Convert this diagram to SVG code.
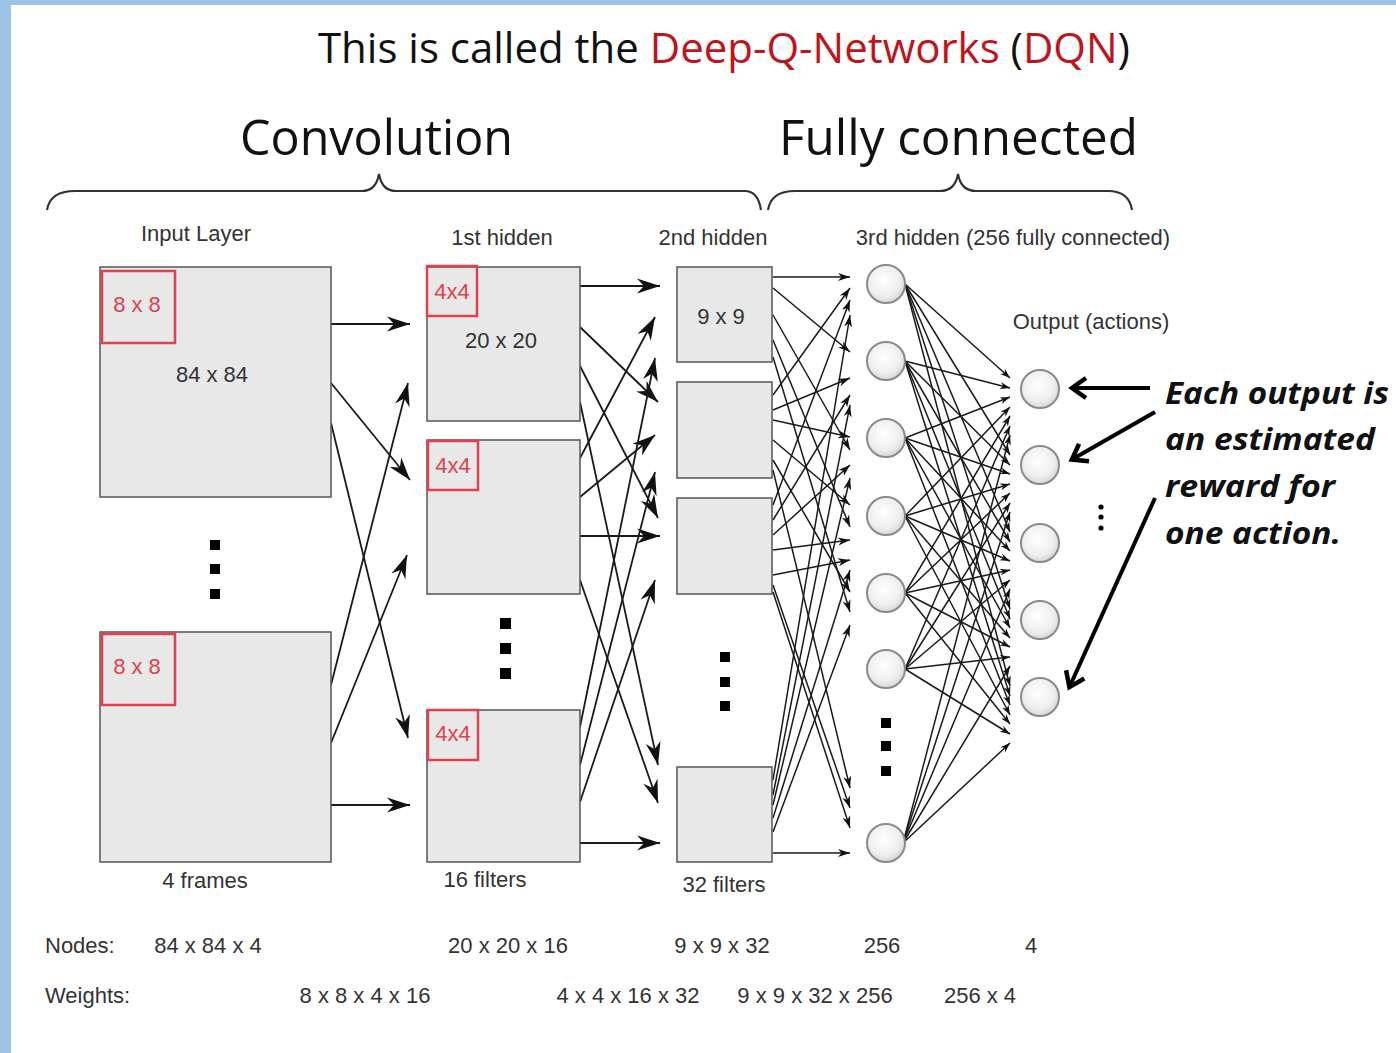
<svg xmlns="http://www.w3.org/2000/svg" width="1396" height="1053" viewBox="0 0 1396 1053">
<defs>
<style>
.box{fill:#e8e8e8;stroke:#555;stroke-width:1.5}
.red{fill:none;stroke:#e0404f;stroke-width:2.5}
.rt{fill:#e0404f;font-family:"Liberation Sans",Arial,sans-serif;font-size:22px;text-anchor:middle}
.lbl{fill:#333;font-family:"Liberation Sans",Arial,sans-serif;font-size:22px}
.c{text-anchor:middle}
.conv line{stroke:#1a1a1a;stroke-width:1.8;marker-end:url(#ah)}
.fc2 line{stroke:#1a1a1a;stroke-width:1.5;marker-end:url(#as)}
.fc3 line{stroke:#1a1a1a;stroke-width:1.5;marker-end:url(#at)}
.node{fill:url(#g);stroke:#8a8a8a;stroke-width:2}
.sq{fill:#000}
.brace{fill:none;stroke:#333;stroke-width:2.2}
.big{font-family:"Open Sans","Noto Sans",sans-serif;fill:#111}
.ann{font-family:"Open Sans","Noto Sans",sans-serif;font-weight:bold;font-style:italic;font-size:31px;fill:#111}
.ka{stroke:#000;stroke-width:4;fill:none;marker-end:url(#ak)}
</style>
<radialGradient id="g" cx="0.45" cy="0.4" r="0.6">
<stop offset="0" stop-color="#ffffff"/>
<stop offset="0.7" stop-color="#eeeeee"/>
<stop offset="1" stop-color="#d6d6d6"/>
</radialGradient>
<marker id="ah" viewBox="-24 -8 26 16" markerWidth="26" markerHeight="16" refX="0" refY="0" orient="auto" markerUnits="userSpaceOnUse"><path d="M0,0 L-23,-7.5 L-16,0 L-23,7.5 Z" fill="#111"/></marker>
<marker id="as" viewBox="-13 -5 14 10" markerWidth="14" markerHeight="10" refX="0" refY="0" orient="auto" markerUnits="userSpaceOnUse"><path d="M0,0 L-12,-4 L-8.5,0 L-12,4 Z" fill="#111"/></marker>
<marker id="at" viewBox="-11 -4 12 8" markerWidth="12" markerHeight="8" refX="0" refY="0" orient="auto" markerUnits="userSpaceOnUse"><path d="M0,0 L-10,-3.5 L-7,0 L-10,3.5 Z" fill="#111"/></marker>
<marker id="ak" viewBox="-20 -14 26 28" markerWidth="26" markerHeight="28" refX="0" refY="0" orient="auto" markerUnits="userSpaceOnUse"><path d="M-15,-10 L-1,0 L-15,10" fill="none" stroke="#000" stroke-width="4.5"/></marker>
</defs>
<rect x="0" y="0" width="1396" height="1053" fill="#9dc3e6"/>
<rect x="11" y="5" width="1385" height="1048" fill="#ffffff"/>

<text class="big" x="318" y="63" font-size="42" textLength="812" lengthAdjust="spacingAndGlyphs">This is called the <tspan fill="#c0141c">Deep-Q-Networks</tspan> (<tspan fill="#c0141c">DQN</tspan>)</text>
<text class="big" x="240" y="155" font-size="50" textLength="273" lengthAdjust="spacingAndGlyphs">Convolution</text>
<text class="big" x="779" y="155" font-size="50" textLength="359" lengthAdjust="spacingAndGlyphs">Fully connected</text>
<path class="brace" d="M47,210 Q50,191 75,191 L362,191 Q376,191 379,174 Q382,191 396,191 L745,191 Q758,191 761,210"/>
<path class="brace" d="M768,210 Q771,191 795,191 L940,191 Q955,191 958,174 Q961,191 976,191 L1108,191 Q1129,191 1132,210"/>

<text class="lbl c" x="196" y="241">Input Layer</text>
<text class="lbl c" x="502" y="245">1st hidden</text>
<text class="lbl c" x="713" y="245">2nd hidden</text>
<text class="lbl c" x="1013" y="245">3rd hidden (256 fully connected)</text>
<text class="lbl c" x="1091" y="329">Output (actions)</text>

<g id="connectors">
<g class="conv">
<line x1="331" y1="324" x2="410" y2="324"/>
<line x1="331" y1="383" x2="410" y2="480"/>
<line x1="331" y1="423" x2="408" y2="738"/>
<line x1="331" y1="685" x2="408" y2="383"/>
<line x1="331" y1="743" x2="407" y2="555"/>
<line x1="331" y1="805" x2="410" y2="805"/>
<line x1="580" y1="286" x2="660" y2="286"/>
<line x1="580" y1="327" x2="658" y2="402"/>
<line x1="580" y1="366" x2="658" y2="518"/>
<line x1="580" y1="402" x2="658" y2="765"/>
<line x1="580" y1="458" x2="655" y2="317"/>
<line x1="580" y1="497" x2="655" y2="435"/>
<line x1="580" y1="536" x2="660" y2="536"/>
<line x1="580" y1="580" x2="658" y2="803"/>
<line x1="580" y1="727" x2="655" y2="358"/>
<line x1="580" y1="765" x2="655" y2="472"/>
<line x1="580" y1="802" x2="655" y2="580"/>
<line x1="580" y1="843" x2="660" y2="843"/>
</g>
<g class="fc2">
<line x1="773" y1="277" x2="850" y2="277"/>
<line x1="773" y1="288" x2="850" y2="352"/>
<line x1="773" y1="315" x2="850" y2="450"/>
<line x1="773" y1="340" x2="850" y2="527"/>
<line x1="773" y1="357" x2="850" y2="612"/>
<line x1="773" y1="395" x2="850" y2="288"/>
<line x1="773" y1="410" x2="850" y2="378"/>
<line x1="773" y1="420" x2="850" y2="437"/>
<line x1="773" y1="440" x2="850" y2="505"/>
<line x1="773" y1="460" x2="850" y2="592"/>
<line x1="773" y1="470" x2="850" y2="788"/>
<line x1="773" y1="505" x2="850" y2="300"/>
<line x1="773" y1="520" x2="850" y2="395"/>
<line x1="773" y1="535" x2="850" y2="465"/>
<line x1="773" y1="550" x2="850" y2="540"/>
<line x1="773" y1="575" x2="850" y2="560"/>
<line x1="773" y1="585" x2="850" y2="808"/>
<line x1="773" y1="592" x2="850" y2="828"/>
<line x1="773" y1="780" x2="850" y2="315"/>
<line x1="773" y1="795" x2="850" y2="405"/>
<line x1="773" y1="805" x2="850" y2="478"/>
<line x1="773" y1="818" x2="850" y2="570"/>
<line x1="773" y1="832" x2="850" y2="625"/>
<line x1="773" y1="853" x2="850" y2="853"/>
</g>
<g class="fc3">
<line x1="905" y1="284" x2="1010" y2="378"/>
<line x1="905" y1="284" x2="1010" y2="455"/>
<line x1="905" y1="284" x2="1010" y2="532"/>
<line x1="905" y1="284" x2="1010" y2="609"/>
<line x1="905" y1="284" x2="1010" y2="686"/>
<line x1="905" y1="361" x2="1010" y2="388"/>
<line x1="905" y1="361" x2="1010" y2="465"/>
<line x1="905" y1="361" x2="1010" y2="542"/>
<line x1="905" y1="361" x2="1010" y2="619"/>
<line x1="905" y1="361" x2="1010" y2="696"/>
<line x1="905" y1="438" x2="1010" y2="397"/>
<line x1="905" y1="438" x2="1010" y2="474"/>
<line x1="905" y1="438" x2="1010" y2="551"/>
<line x1="905" y1="438" x2="1010" y2="628"/>
<line x1="905" y1="438" x2="1010" y2="705"/>
<line x1="905" y1="516" x2="1010" y2="407"/>
<line x1="905" y1="516" x2="1010" y2="484"/>
<line x1="905" y1="516" x2="1010" y2="561"/>
<line x1="905" y1="516" x2="1010" y2="638"/>
<line x1="905" y1="516" x2="1010" y2="715"/>
<line x1="905" y1="593" x2="1010" y2="416"/>
<line x1="905" y1="593" x2="1010" y2="493"/>
<line x1="905" y1="593" x2="1010" y2="570"/>
<line x1="905" y1="593" x2="1010" y2="647"/>
<line x1="905" y1="593" x2="1010" y2="724"/>
<line x1="905" y1="669" x2="1010" y2="426"/>
<line x1="905" y1="669" x2="1010" y2="503"/>
<line x1="905" y1="669" x2="1010" y2="580"/>
<line x1="905" y1="669" x2="1010" y2="657"/>
<line x1="905" y1="669" x2="1010" y2="734"/>
<line x1="903" y1="843" x2="1010" y2="435"/>
<line x1="903" y1="843" x2="1010" y2="512"/>
<line x1="903" y1="843" x2="1010" y2="589"/>
<line x1="903" y1="843" x2="1010" y2="666"/>
<line x1="903" y1="843" x2="1010" y2="743"/>
</g>
<line class="ka" x1="1150" y1="388" x2="1071" y2="388"/>
<line class="ka" x1="1155" y1="412" x2="1071" y2="460"/>
<line class="ka" x1="1155" y1="498" x2="1069" y2="688"/>
</g>

<g id="input1">
<rect class="box" x="100" y="267" width="231" height="230"/>
<rect class="red" x="102" y="271" width="73" height="72"/>
<text class="rt" x="137" y="312">8 x 8</text>
<text class="lbl c" x="212" y="382">84 x 84</text>
</g>
<g id="input-dots">
<rect class="sq" x="210" y="540" width="10" height="10"/>
<rect class="sq" x="210" y="564" width="10" height="10"/>
<rect class="sq" x="210" y="589" width="10" height="10"/>
</g>
<g id="input2">
<rect class="box" x="100" y="632" width="231" height="230"/>
<rect class="red" x="102" y="634" width="73" height="71"/>
<text class="rt" x="137" y="674">8 x 8</text>
</g>
<text class="lbl c" x="205" y="888">4 frames</text>

<g id="h1a">
<rect class="box" x="427" y="267" width="153" height="154"/>
<rect class="red" x="427" y="266" width="50" height="50"/>
<text class="rt" x="452" y="299">4x4</text>
<text class="lbl c" x="501" y="348">20 x 20</text>
</g>
<g id="h1b">
<rect class="box" x="427" y="440" width="153" height="154"/>
<rect class="red" x="428" y="441" width="50" height="49"/>
<text class="rt" x="453" y="473">4x4</text>
</g>
<g id="h1-dots">
<rect class="sq" x="500" y="618" width="11" height="11"/>
<rect class="sq" x="500" y="643" width="11" height="11"/>
<rect class="sq" x="500" y="668" width="11" height="11"/>
</g>
<g id="h1c">
<rect class="box" x="427" y="710" width="153" height="152"/>
<rect class="red" x="428" y="710" width="50" height="50"/>
<text class="rt" x="453" y="741">4x4</text>
</g>
<text class="lbl c" x="485" y="887">16 filters</text>

<g id="h2a">
<rect class="box" x="677" y="267" width="95" height="95"/>
<text class="lbl c" x="721" y="324">9 x 9</text>
</g>
<g id="h2b"><rect class="box" x="677" y="382" width="95" height="96"/></g>
<g id="h2c"><rect class="box" x="677" y="498" width="95" height="96"/></g>
<g id="h2-dots">
<rect class="sq" x="720" y="652" width="10" height="10"/>
<rect class="sq" x="720" y="677" width="10" height="10"/>
<rect class="sq" x="720" y="701" width="10" height="10"/>
</g>
<g id="h2d"><rect class="box" x="677" y="767" width="95" height="95"/></g>
<text class="lbl c" x="724" y="892">32 filters</text>

<g id="h3">
<circle class="node" cx="886" cy="284" r="19"/>
<circle class="node" cx="886" cy="361" r="19"/>
<circle class="node" cx="886" cy="438" r="19"/>
<circle class="node" cx="886" cy="516" r="19"/>
<circle class="node" cx="886" cy="593" r="19"/>
<circle class="node" cx="886" cy="669" r="19"/>
<circle class="node" cx="886" cy="843" r="19"/>
<rect class="sq" x="881" y="718" width="10" height="10"/>
<rect class="sq" x="881" y="741" width="10" height="10"/>
<rect class="sq" x="881" y="766" width="10" height="10"/>
</g>

<g id="output">
<circle class="node" cx="1040" cy="389" r="19"/>
<circle class="node" cx="1040" cy="465" r="19"/>
<circle class="node" cx="1040" cy="543" r="19"/>
<circle class="node" cx="1040" cy="620" r="19"/>
<circle class="node" cx="1040" cy="697" r="19"/>
<circle cx="1101" cy="507" r="2.6" fill="#000"/>
<circle cx="1101" cy="517" r="2.6" fill="#000"/>
<circle cx="1101" cy="528" r="2.6" fill="#000"/>
</g>

<g id="annotation">
<text class="ann" x="1165" y="404" textLength="224" lengthAdjust="spacingAndGlyphs">Each output is</text>
<text class="ann" x="1165" y="450" textLength="210" lengthAdjust="spacingAndGlyphs">an estimated</text>
<text class="ann" x="1165" y="497" textLength="170" lengthAdjust="spacingAndGlyphs">reward for</text>
<text class="ann" x="1165" y="544" textLength="176" lengthAdjust="spacingAndGlyphs">one action.</text>
</g>

<g id="table">
<text class="lbl" x="45" y="953">Nodes:</text>
<text class="lbl c" x="208" y="953">84 x 84 x 4</text>
<text class="lbl c" x="508" y="953">20 x 20 x 16</text>
<text class="lbl c" x="722" y="953">9 x 9 x 32</text>
<text class="lbl c" x="882" y="953">256</text>
<text class="lbl c" x="1031" y="953">4</text>
<text class="lbl" x="45" y="1003">Weights:</text>
<text class="lbl c" x="365" y="1003">8 x 8 x 4 x 16</text>
<text class="lbl c" x="628" y="1003">4 x 4 x 16 x 32</text>
<text class="lbl c" x="815" y="1003">9 x 9 x 32 x 256</text>
<text class="lbl c" x="980" y="1003">256 x 4</text>
</g>
</svg>
